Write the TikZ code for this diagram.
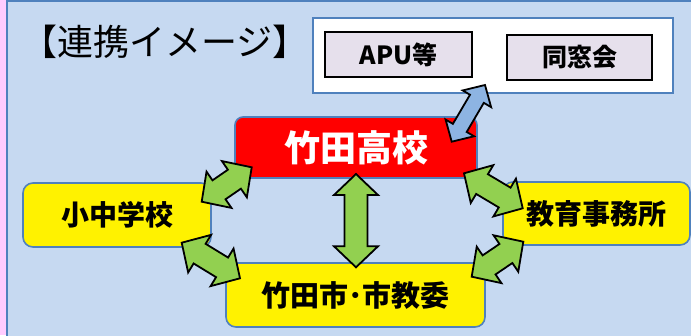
\documentclass[tikz,border=0pt]{standalone}
\usepackage{fontspec}
\newfontfamily\jp{Noto Sans CJK JP}
\usetikzlibrary{calc}
\definecolor{bgblue}{RGB}{198,217,241}
\definecolor{bgpink}{RGB}{255,204,255}
\definecolor{edgeblue}{RGB}{79,129,189}
\definecolor{lav}{RGB}{230,224,236}
\definecolor{arrgreen}{RGB}{146,208,80}
\definecolor{arrblue}{RGB}{141,180,226}
\newcommand{\myblockarrow}[6]{%
\draw[#6] (#1) -- ($(#1)!#5!(#2)!#4!90:(#2)$) -- ($(#1)!#5!(#2)!#3!90:(#2)$)
 -- ($(#2)!#5!(#1)!#3!-90:(#1)$) -- ($(#2)!#5!(#1)!#4!-90:(#1)$) -- (#2)
 -- ($(#2)!#5!(#1)!#4!90:(#1)$) -- ($(#2)!#5!(#1)!#3!90:(#1)$)
 -- ($(#1)!#5!(#2)!#3!-90:(#2)$) -- ($(#1)!#5!(#2)!#4!-90:(#2)$) -- cycle;}
\tikzset{
 ybox/.style={draw=edgeblue, line width=1.6pt, fill=yellow, rounded corners=10pt, font=\jp\bfseries\fontsize{28}{28}\selectfont, inner sep=0pt},
 pbox/.style={draw=black, line width=1.8pt, fill=lav, font=\jp\bfseries\fontsize{25}{25}\selectfont, inner sep=0pt},
 garrow/.style={draw=black, line width=1.8pt, fill=arrgreen, line join=miter},
 barrow/.style={draw=black, line width=1.8pt, fill=arrblue, line join=miter}
}
\begin{document}
\begin{tikzpicture}[x=1pt,y=-1pt]
\useasboundingbox (0,0) rectangle (691,335);
\clip (0,0) rectangle (691,335);
\fill[bgpink] (0,0) rectangle (691,335);
\draw[edgeblue, line width=1.6pt, fill=bgblue] (7,1) rectangle (720,360);
\node[anchor=west, font=\jp\fontsize{36}{36}\selectfont, inner sep=0pt] (title) at (21,42) {【連携イメージ】};
\node[draw=edgeblue, line width=1.6pt, fill=white, minimum width=360pt, minimum height=75pt] (outer) at (493,55.5) {};
\node[pbox, minimum width=147pt, minimum height=45pt] (apu) at (398.5,54.5) {APU等};
\node[pbox, minimum width=145pt, minimum height=45pt] (dso) at (579.5,57.5) {同窓会};
\node[draw=edgeblue, line width=1.6pt, fill=red, rounded corners=8pt, minimum width=242pt, minimum height=61pt, text=white, font=\jp\bfseries\fontsize{36}{36}\selectfont, inner sep=0pt] (hs) at (356,147.5) {竹田高校};
\node[ybox, minimum width=188pt, minimum height=64pt] (es) at (117,215) {小中学校};
\node[ybox, minimum width=259pt, minimum height=64pt, font=\jp\bfseries\fontsize{29}{29}\selectfont] (city) at (355.5,295) {竹田市･市教委};
\node[ybox, minimum width=187pt, minimum height=63pt] (edo) at (596.5,213.5) {教育事務所};
\coordinate (a1s) at (201.7,201.7); \coordinate (a1e) at (251.7,167.3);
\coordinate (a2s) at (181.7,242.7); \coordinate (a2e) at (240,278.3);
\coordinate (a3s) at (356,174); \coordinate (a3e) at (356,267.3);
\coordinate (a4s) at (464,173.3); \coordinate (a4e) at (522.7,208.3);
\coordinate (a5s) at (471.7,276.7); \coordinate (a5e) at (523.3,241.7);
\coordinate (a6s) at (451.7,141.7); \coordinate (a6e) at (485,85);
\myblockarrow{a1s}{a1e}{11.5pt}{22pt}{21pt}{garrow}
\myblockarrow{a2s}{a2e}{11.5pt}{22pt}{21pt}{garrow}
\myblockarrow{a3s}{a3e}{11.5pt}{22pt}{21pt}{garrow}
\myblockarrow{a4s}{a4e}{11.5pt}{22pt}{21pt}{garrow}
\myblockarrow{a5s}{a5e}{11.5pt}{22pt}{21pt}{garrow}
\myblockarrow{a6s}{a6e}{8pt}{16.5pt}{16pt}{barrow}
\end{tikzpicture}
\end{document}
